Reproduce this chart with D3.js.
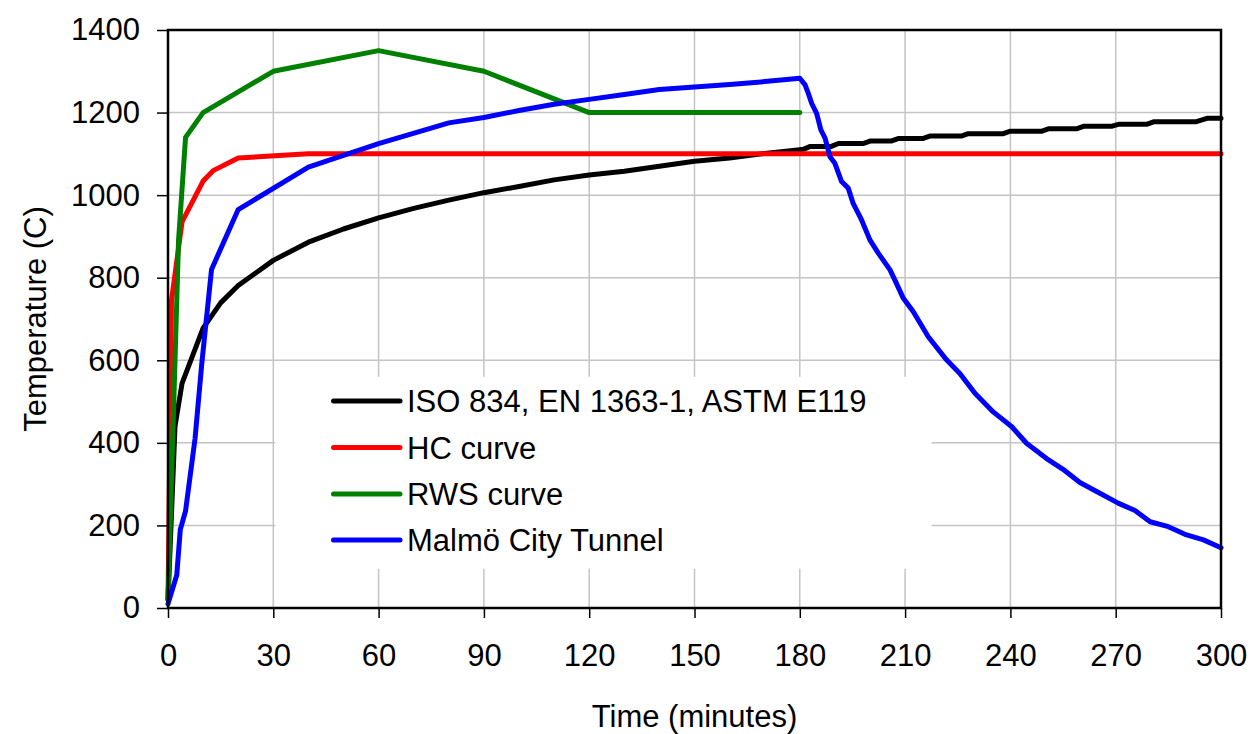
<!DOCTYPE html>
<html>
<head>
<meta charset="utf-8">
<script src="https://cdn.jsdelivr.net/npm/d3@7"></script>
<style>
  body { margin: 0; background: #fff; }
  text { font-family: "Liberation Sans", Arial, sans-serif; fill: #000; }
</style>
</head>
<body>
<div id="chart"></div>
<script>
// Series data: [time in minutes, temperature in C]
const isoCurve = [
    [0, 20], [2, 440], [4, 544], [10, 678], [15, 739], [20, 781], [30, 842], [40, 886],
    [50, 918], [60, 945], [70, 968], [80, 988], [90, 1006], [100, 1021], [110, 1037],
    [120, 1049], [130, 1058], [140, 1070], [150, 1082], [160, 1090], [170, 1101], [180, 1110],
    [181, 1111], [183, 1118], [189, 1118], [191, 1125], [198, 1125], [200, 1131], [206, 1131],
    [208, 1137], [215, 1137], [217, 1143], [226, 1143], [228, 1149], [238, 1149], [240, 1155],
    [249, 1155], [251, 1161], [259, 1161], [261, 1167], [269, 1167], [271, 1172], [279, 1172],
    [281, 1178], [293, 1178], [296, 1186], [300, 1186]
];
const hcCurve = [
    [0, 20], [1, 745], [4, 935], [10, 1034], [13, 1060], [20, 1090], [40, 1100], [300, 1100]
];
const rwsCurve = [
    [0, 20], [3, 890], [5, 1140], [10, 1200], [30, 1300], [60, 1350], [90, 1300], [120, 1200], [180, 1200]
];
const malmoCurve = [
    [0, 10], [2.5, 80], [3.5, 190], [5, 235], [7.7, 410], [9.6, 590], [12.4, 820], [20, 965],
    [40, 1068], [60, 1125], [80, 1175], [90, 1188], [100, 1205], [110, 1220], [120, 1232],
    [130, 1244], [140, 1256], [150, 1262], [160, 1268], [170, 1275], [180, 1283],
    [181.5, 1267], [182.4, 1247], [183.4, 1222], [184.8, 1198], [186, 1158], [187.2, 1138],
    [188.6, 1093], [190, 1077], [191.9, 1033], [193.8, 1017], [195.2, 980], [197.6, 940],
    [200, 891], [202.4, 859], [205.7, 819], [207.1, 794], [209.5, 750], [212.3, 718],
    [216.6, 657], [221.8, 601], [225.6, 568], [229.9, 520], [235.1, 475], [240.4, 439],
    [244.6, 399], [250.3, 362], [255, 336], [259.8, 304], [265.5, 278], [270.7, 254],
    [275.5, 236], [279.8, 209], [285, 197], [290.2, 177], [295, 165], [300, 146]
];

const seriesNames = ['ISO 834, EN 1363-1, ASTM E119', 'HC curve', 'RWS curve', 'Malmö City Tunnel'];
const seriesColors = ['#000000', '#ff0000', '#008000', '#0000ff'];
const seriesData = [isoCurve, hcCurve, rwsCurve, malmoCurve];

const xTicks = [0, 30, 60, 90, 120, 150, 180, 210, 240, 270, 300];
const yTicks = [0, 200, 400, 600, 800, 1000, 1200, 1400];

// Setup SVG canvas
const width = 1255, height = 734;
const margin = { top: 30, right: 34, bottom: 126, left: 168 };
const plotW = width - margin.left - margin.right;
const plotH = height - margin.top - margin.bottom;

const svg = d3.select('#chart')
    .append('svg')
    .attr('width', width)
    .attr('height', height);

const g = svg.append('g')
    .attr('transform', `translate(${margin.left},${margin.top})`);

const x = d3.scaleLinear().domain([0, 300]).range([0, plotW]);
const y = d3.scaleLinear().domain([0, 1400]).range([plotH, 0]);

// Gridlines
g.append('g')
    .selectAll('line')
    .data(xTicks.slice(1, -1))
    .enter()
    .append('line')
    .attr('x1', d => x(d)).attr('x2', d => x(d))
    .attr('y1', 0).attr('y2', plotH)
    .attr('stroke', '#c4c4c4')
    .attr('stroke-width', 1.5);

g.append('g')
    .selectAll('line')
    .data(yTicks.slice(1, -1))
    .enter()
    .append('line')
    .attr('x1', 0).attr('x2', plotW)
    .attr('y1', d => y(d)).attr('y2', d => y(d))
    .attr('stroke', '#c4c4c4')
    .attr('stroke-width', 1.5);

// Legend background hides the grid behind it
const legend = g.append('g');
legend.append('rect')
    .attr('x', x(30) + 2).attr('y', y(560))
    .attr('width', x(217) - x(30)).attr('height', y(95) - y(560))
    .attr('fill', '#fff');

// Draw series lines
const line = d3.line()
    .x(d => x(d[0]))
    .y(d => y(d[1]));

g.append('g')
    .selectAll('path')
    .data(seriesData)
    .enter()
    .append('path')
    .attr('d', line)
    .attr('fill', 'none')
    .attr('stroke', (d, i) => seriesColors[i])
    .attr('stroke-width', 5)
    .attr('stroke-linejoin', 'round')
    .attr('stroke-linecap', 'round');

// Axes
const yAxis = g.append('g')
    .call(d3.axisLeft(y).tickValues(yTicks).tickFormat(d3.format('d'))
        .tickSize(11).tickPadding(17).tickSizeOuter(0));
const xAxis = g.append('g')
    .attr('transform', `translate(0,${plotH})`)
    .call(d3.axisBottom(x).tickValues(xTicks).tickFormat(d3.format('d'))
        .tickSize(10).tickPadding(26).tickSizeOuter(0));

[xAxis, yAxis].forEach(ax => {
    ax.select('.domain').remove();
    ax.selectAll('line').attr('stroke', '#000').attr('stroke-width', 1.5);
    ax.selectAll('text')
        .style('font-size', '31px')
        .style('font-family', '"Liberation Sans", Arial, sans-serif')
        .attr('fill', '#000');
});

// Plot frame
g.append('rect')
    .attr('x', 0).attr('y', 0)
    .attr('width', plotW).attr('height', plotH)
    .attr('fill', 'none')
    .attr('stroke', '#000')
    .attr('stroke-width', 2.5);

// Legend entries
const rowY = [401, 447.5, 494, 540];
const entry = legend.selectAll('g.entry')
    .data(seriesNames)
    .enter()
    .append('g')
    .attr('class', 'entry')
    .attr('transform', (d, i) => `translate(0,${rowY[i] - margin.top})`);

entry.append('line')
    .attr('x1', 333.5 - margin.left).attr('x2', 400 - margin.left)
    .attr('y1', 0).attr('y2', 0)
    .attr('stroke', (d, i) => seriesColors[i])
    .attr('stroke-width', 5)
    .attr('stroke-linecap', 'round');

entry.append('text')
    .attr('x', 407 - margin.left)
    .attr('dy', '0.36em')
    .style('font-size', '31px')
    .text(d => d);

// Axis titles
svg.append('text')
    .attr('transform', `translate(46,${margin.top + plotH / 2}) rotate(-90)`)
    .attr('text-anchor', 'middle')
    .style('font-size', '31px')
    .text('Temperature (C)');

svg.append('text')
    .attr('x', margin.left + plotW / 2)
    .attr('y', 727)
    .attr('text-anchor', 'middle')
    .style('font-size', '31px')
    .text('Time (minutes)');
</script>
</body>
</html>
